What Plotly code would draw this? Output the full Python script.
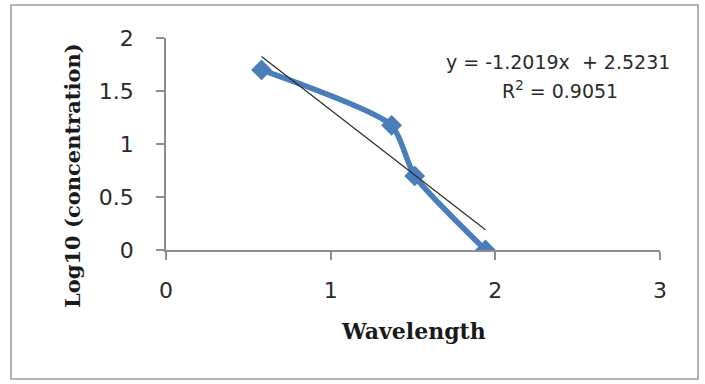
import plotly.graph_objects as go

# ---- data ----
wavelength = [0.58, 1.37, 1.51, 1.94]
log_conc = [1.699, 1.176, 0.699, 0.0]
trend_slope = -1.2019
trend_intercept = 2.5231
r_squared = 0.9051
x_ticks = [0, 1, 2, 3]
y_ticks = [0, 0.5, 1, 1.5, 2]

W, H = 705, 384
ML, MR, MT, MB = 166, 45, 38, 134

def px_x(p):  # pixel -> paper x
    return (p - ML) / (W - ML - MR)

def px_y(p):  # pixel -> paper y
    return (H - MB - p) / (H - MT - MB)

trend_x = [min(wavelength), max(wavelength)]
trend_y = [trend_slope * v + trend_intercept for v in trend_x]

fig = go.Figure()
fig.add_trace(go.Scatter(
    x=wavelength, y=log_conc, mode="lines+markers",
    line=dict(color="#4a7ebb", width=5.5, shape="spline", smoothing=0.6),
    marker=dict(symbol="diamond", size=16, color="#4a7ebb"),
    showlegend=False))
fig.add_trace(go.Scatter(
    x=trend_x, y=trend_y, mode="lines",
    line=dict(color="#2b2b2b", width=1.2), showlegend=False, hoverinfo="skip"))

tickfont = dict(family="DejaVu Sans", size=22, color="#2a2a2a")
fig.update_layout(
    width=W, height=H,
    margin=dict(l=ML, r=MR, t=MT, b=MB),
    paper_bgcolor="white", plot_bgcolor="white",
    xaxis=dict(range=[0, 3], tickvals=x_ticks, showgrid=False, zeroline=False,
               showline=True, linecolor="#8c8c8c", linewidth=1.5,
               ticks="outside", ticklen=8, tickcolor="#8c8c8c", tickwidth=1.5,
               tickfont=tickfont, ticklabelstandoff=12),
    yaxis=dict(range=[0, 2], tickvals=y_ticks, showgrid=False, zeroline=False,
               showline=True, linecolor="#8c8c8c", linewidth=1.5,
               ticks="outside", ticklen=8, tickcolor="#8c8c8c", tickwidth=1.5,
               tickfont=tickfont, ticklabelstandoff=18),
    shapes=[dict(type="rect", xref="paper", yref="paper",
                 x0=px_x(11), x1=px_x(698), y0=px_y(379), y1=px_y(5),
                 line=dict(color="#9a9a9a", width=1.5), layer="below")],
    annotations=[
        dict(text="Log10 (concentration)", textangle=-90, showarrow=False,
             xref="paper", yref="paper", x=px_x(72), y=px_y(176),
             xanchor="center", yanchor="middle",
             font=dict(family="DejaVu Serif", size=21, color="#1a1a1a", weight="bold")),
        dict(text="Wavelength", showarrow=False,
             xref="paper", yref="paper", x=px_x(413), y=px_y(331),
             xanchor="center", yanchor="middle",
             font=dict(family="DejaVu Serif", size=22, color="#1a1a1a", weight="bold")),
        dict(text=f"y = {trend_slope}x  + {trend_intercept}", showarrow=False,
             xref="paper", yref="paper", x=px_x(558), y=px_y(62),
             xanchor="center", yanchor="middle",
             font=dict(family="DejaVu Sans", size=19, color="#2a2a2a")),
        dict(text=f"R<sup>2</sup> = {r_squared}", showarrow=False,
             xref="paper", yref="paper", x=px_x(560), y=px_y(90),
             xanchor="center", yanchor="middle",
             font=dict(family="DejaVu Sans", size=19, color="#2a2a2a")),
    ],
)

fig.write_html("out.html")
